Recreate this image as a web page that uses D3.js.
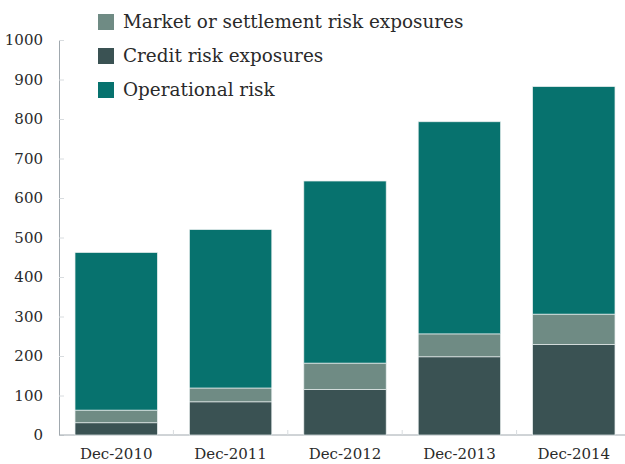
<!DOCTYPE html>
<html><head><meta charset="utf-8">
<script src="https://cdn.jsdelivr.net/npm/d3@7"></script>
<style>body{margin:0;background:#fff}svg{display:block}text{font-family:"DejaVu Serif",serif;fill:#2a2a2a}</style>
</head><body>
<script>
const categories = ["Dec-2010","Dec-2011","Dec-2012","Dec-2013","Dec-2014"];
const credit = [31, 84, 115, 198, 229];
const market = [32, 35, 67, 58, 77];
const operational = [399, 401, 461, 537, 576];
const seriesNames = ["Credit risk exposures","Market or settlement risk exposures","Operational risk"];
const colors = {"Credit risk exposures":"#3a5253","Market or settlement risk exposures":"#6f8b84","Operational risk":"#07726e"};
const yTicks = [0,100,200,300,400,500,600,700,800,900,1000];
const legendOrder = ["Market or settlement risk exposures","Credit risk exposures","Operational risk"];

const W=625,H=464;
const svg=d3.select("body").append("svg").attr("width",W).attr("height",H);
const x=d3.scaleBand().domain(categories).range([59,631]).paddingInner(0.28).paddingOuter(0.14);
const y=d3.scaleLinear().domain([0,1000]).range([435,40]);

const rows=categories.map((c,i)=>({cat:c,"Credit risk exposures":credit[i],"Market or settlement risk exposures":market[i],"Operational risk":operational[i]}));
const stack=d3.stack().keys(seriesNames)(rows);

// y axis
const ya=svg.append("g").attr("transform","translate(59,0)").call(d3.axisRight(y).tickValues(yTicks).tickSize(5).tickFormat(""));
ya.select(".domain").attr("stroke","#a0a8ae");
ya.selectAll(".tick line").attr("stroke","#d8dcdf");
svg.append("g").selectAll("text").data(yTicks).join("text")
  .attr("x",43).attr("y",d=>y(d)).attr("dy","0.35em").attr("text-anchor","end")
  .style("font-size","15px").text(d=>d);

// x axis
const xa=svg.append("g").attr("transform","translate(0,435)");
xa.append("line").attr("x1",59).attr("x2",625).attr("stroke","#a0a8ae");
const bounds=categories.map(c=>x(c)-x.step()*x.paddingInner()/2).slice(1);
xa.selectAll(".tk").data(bounds).join("line").attr("x1",d=>d).attr("x2",d=>d).attr("y1",0).attr("y2",-5).attr("stroke","#d8dcdf");
xa.selectAll("text").data(categories).join("text").attr("x",d=>x(d)+x.bandwidth()/2).attr("y",24)
  .attr("text-anchor","middle").style("font-size","15px").text(d=>d);

// bars
svg.append("g").selectAll("g").data(stack).join("g").attr("fill",d=>colors[d.key])
  .selectAll("rect").data(d=>d).join("rect")
  .attr("x",d=>x(d.data.cat)).attr("width",x.bandwidth())
  .attr("y",d=>y(d[1])).attr("height",d=>y(d[0])-y(d[1]))
  .attr("stroke","#e8eeee").attr("stroke-width",0.7);

// legend
const lg=svg.append("g").selectAll("g").data(legendOrder).join("g").attr("transform",(d,i)=>`translate(98,${22+i*34})`);
lg.append("rect").attr("x",0).attr("y",-8).attr("width",16).attr("height",16).attr("fill",d=>colors[d]);
lg.append("text").attr("x",25).attr("y",0).attr("dy","0.35em").style("font-size","18.4px").text(d=>d);
</script>
</body></html>
